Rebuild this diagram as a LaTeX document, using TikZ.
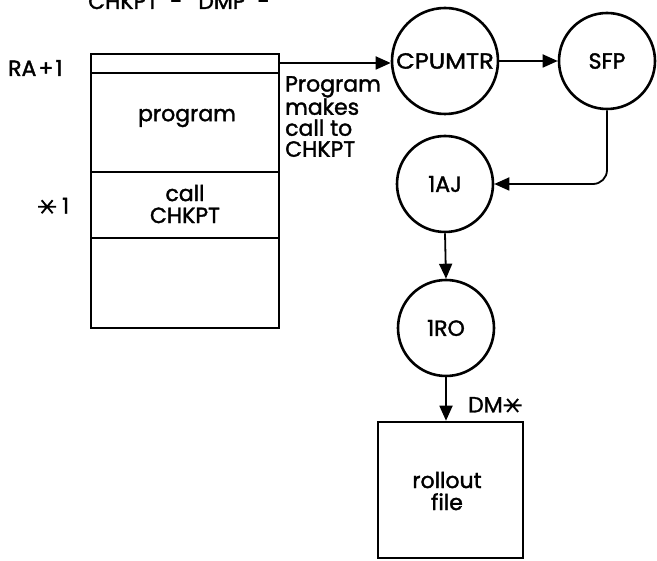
\documentclass[tikz,border=0pt]{standalone}
\usepackage{fontspec}
\setmainfont{Poppins}[UprightFeatures={FakeBold=1.6}]
\usetikzlibrary{arrows.meta}
% six-armed asterisk with a horizontal bar
\newcommand{\bigast}{\tikz[baseline=0pt,x=1pt,y=1pt,line width=1.9pt]{
  \draw (-9,7)--(9,7) (-5.5,0.5)--(5.5,13.5) (-5.5,13.5)--(5.5,0.5);}}
\tikzset{
  proc/.style={circle, draw, line width=2.6pt, minimum size=96pt, inner sep=0pt},
  conn/.style={line width=1.8pt, -{Triangle[length=15pt,width=13pt]}},
  box/.style={draw, line width=2.6pt},
  lbl/.style={font=\fontsize{22}{22}\selectfont, inner sep=0pt},
}
\begin{document}
\begin{tikzpicture}[x=1pt, y=-1pt]
  \useasboundingbox (0,0) rectangle (657,561);
  \fill[white] (0,0) rectangle (657,561);

  % heading, running off the top edge
  \node[lbl, anchor=base west] (head) at (88,9)
    {CHKPT\hspace{12pt}-\hspace{16pt}DMP\hspace{12pt}-};

  % memory layout of the job
  \draw[box] (91,54) rectangle (279,328);
  \draw[box] (91,73) -- (279,73);
  \draw[box] (91,172) -- (279,172);
  \draw[box] (91,238) -- (279,238);
  \coordinate (ra) at (279,63);
  \node[lbl, anchor=west] (ralbl) at (8,68) {RA\hspace{2pt}+\hspace{2pt}1};
  \node[lbl] (prog) at (187,118) {program};
  \node[lbl, align=center] (call) at (185,204) {call\\CHKPT};
  \node[lbl, anchor=west] (star1) at (37,206) {\bigast\hspace{5pt}1};
  \node[lbl, font=\fontsize{22}{21}\selectfont, anchor=north west, align=left] (note) at (285,76)
    {Program\\makes\\call to\\CHKPT};

  % monitor and system routines
  \node[proc, minimum size=106pt] (cpu) at (445,61) {\fontsize{22}{22}\selectfont\scalebox{1.1}[1]{CPUMTR}};
  \node[proc] (sfp) at (607,61) {\fontsize{22}{22}\selectfont SFP};
  \node[proc] (aj) at (445,184) {\fontsize{22}{22}\selectfont 1AJ};
  \node[proc] (ro) at (446,328) {\fontsize{22}{22}\selectfont 1RO};

  % rollout file
  \node[box, minimum width=145pt, minimum height=136pt, inner sep=0pt] (file) at (450.5,490) {};
  \node[lbl, align=center] (filelbl) at (447,491) {rollout\\file};
  \node[lbl, anchor=west] (dm) at (468,405) {DM\bigast};

  % flow
  \draw[conn] (ra) -- (cpu.west |- ra);
  \draw[conn] (cpu.east) -- (sfp.west);
  \draw[conn, rounded corners=14pt] (sfp.south) |- (aj.east);
  \draw[conn] (aj.south) -- (ro.north);
  \draw[conn] (ro.south) -- (ro.south |- file.north);
\end{tikzpicture}
\end{document}
